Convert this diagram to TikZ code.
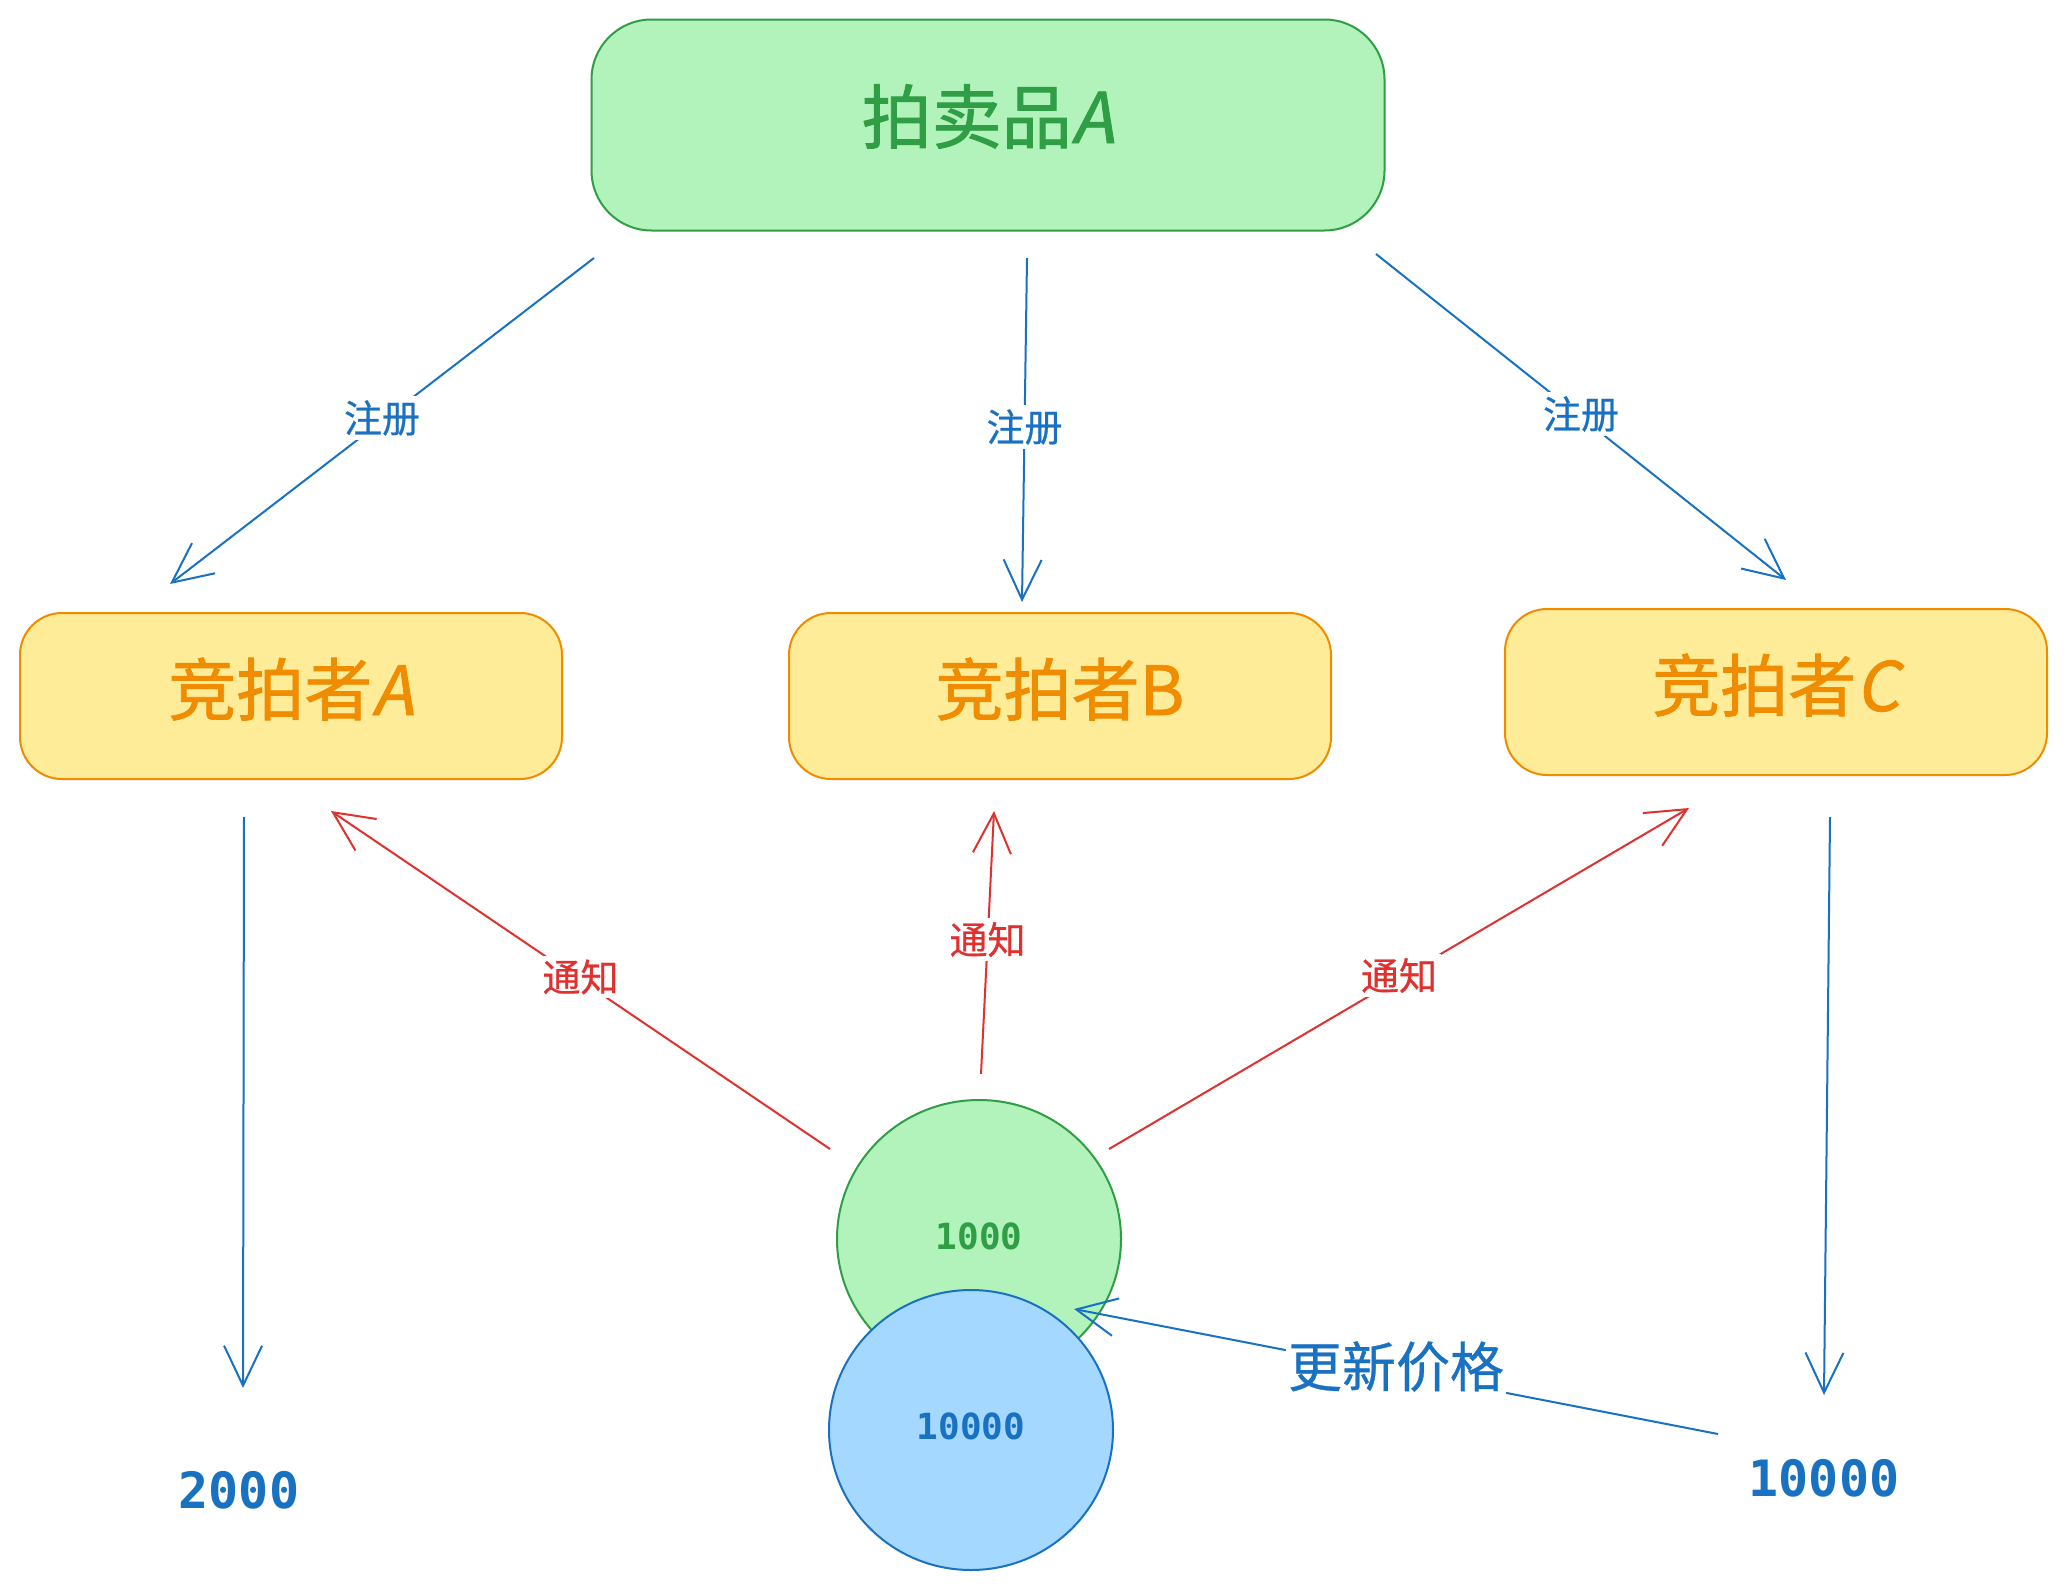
\documentclass[tikz,border=0pt]{standalone}
\usepackage{fontspec}
\setmainfont{Noto Sans CJK SC}
\newfontfamily\boldcjk[FakeBold=1.2]{Noto Sans CJK SC}
\newfontfamily\slantlat[FakeSlant=0.18,FakeBold=1.2]{Noto Sans CJK SC}
\newfontfamily\medcjk[FakeBold=0.6]{Noto Sans CJK SC}
\newfontfamily\monofam{DejaVu Sans Mono}
\usetikzlibrary{arrows.meta,shapes.geometric}
\definecolor{gfill}{HTML}{B2F2BB}
\definecolor{gstroke}{HTML}{2F9E44}
\definecolor{yfill}{HTML}{FFEC99}
\definecolor{ystroke}{HTML}{F08C00}
\definecolor{bfill}{HTML}{A5D8FF}
\definecolor{bstroke}{HTML}{1971C2}
\definecolor{rstroke}{HTML}{E03131}
\tikzset{
  bigbox/.style={draw, line width=2pt, rounded corners=60pt, minimum width=793pt, minimum height=211pt, text height=62pt, text depth=26pt},
  bidbox/.style={draw=ystroke, fill=yfill, line width=2pt, rounded corners=42pt, minimum width=542pt, minimum height=166pt, text=ystroke, font=\boldcjk\fontsize{68}{80}\selectfont, text height=60pt, text depth=22pt},
  conn/.style={line width=2pt, -{Straight Barb[length=40pt,width=38pt,line width=2pt]}},
  lbl/.style={fill=white, inner sep=4pt, yshift=3pt, font=\medcjk\fontsize{38}{44}\selectfont},
  num/.style={font=\monofam\bfseries\fontsize{50}{58}\selectfont, text=bstroke},
  cnum/.style={font=\monofam\bfseries\fontsize{36}{42}\selectfont},
}
\begin{document}
\begin{tikzpicture}[x=1pt,y=-1pt]
\useasboundingbox[fill=white] (0,0) rectangle (2067,1590);
% boxes
\node[bigbox, draw=gstroke, fill=gfill, text=gstroke, font=\boldcjk\fontsize{70}{84}\selectfont] (item) at (988,125) {拍卖品{\slantlat A}};
\node[bidbox] (ba) at (291,696) {竞拍者{\slantlat A}};
\node[bidbox] (bb) at (1060,696) {竞拍者B};
\node[bidbox] (bc) at (1776,692) {竞拍者{\slantlat C}};
% circles
\node[ellipse, draw=gstroke, fill=gfill, line width=2pt, minimum width=284pt, minimum height=278pt] (old) at (979,1239) {};
\node[cnum, text=gstroke] (oldt) at (979,1236) {1000};
\node[ellipse, draw=bstroke, fill=bfill, line width=2pt, minimum width=284pt, minimum height=280pt] (new) at (971,1430) {};
\node[cnum, text=bstroke] (newt) at (971,1426) {10000};
% coordinates for free ends
\coordinate (r1s) at (594,258);  \coordinate (r1e) at (170,584);
\coordinate (r2s) at (1027,258); \coordinate (r2e) at (1022,602);
\coordinate (r3s) at (1376,254); \coordinate (r3e) at (1786,580);
\coordinate (n1s) at (830,1149); \coordinate (n1e) at (331,811);
\coordinate (n2s) at (981,1074); \coordinate (n2e) at (994,811);
\coordinate (n3s) at (1109,1149);\coordinate (n3e) at (1689,808);
\coordinate (d1s) at (244,817);  \coordinate (d1e) at (243,1388);
\coordinate (d2s) at (1830,817); \coordinate (d2e) at (1824,1395);
\coordinate (us) at (1718,1434); \coordinate (ue) at (1074,1309);
% register arrows
\draw[conn, bstroke] (r1s) -- node[lbl, text=bstroke] {注册} (r1e);
\draw[conn, bstroke] (r2s) -- node[lbl, text=bstroke] {注册} (r2e);
\draw[conn, bstroke] (r3s) -- node[lbl, text=bstroke] {注册} (r3e);
% notify arrows
\draw[conn, rstroke] (n1s) -- node[lbl, text=rstroke] {通知} (n1e);
\draw[conn, rstroke] (n2s) -- node[lbl, text=rstroke] {通知} (n2e);
\draw[conn, rstroke] (n3s) -- node[lbl, text=rstroke] {通知} (n3e);
% down arrows
\draw[conn, bstroke] (d1s) -- (d1e);
\draw[conn, bstroke] (d2s) -- (d2e);
\node[num] (v1) at (239,1490) {2000};
\node[num] (v2) at (1824,1478) {10000};
% update
\draw[conn, bstroke] (us) -- node[lbl, text=bstroke, font=\medcjk\fontsize{54}{62}\selectfont, inner sep=2pt, yshift=2pt] {更新价格} (ue);
\end{tikzpicture}
\end{document}
